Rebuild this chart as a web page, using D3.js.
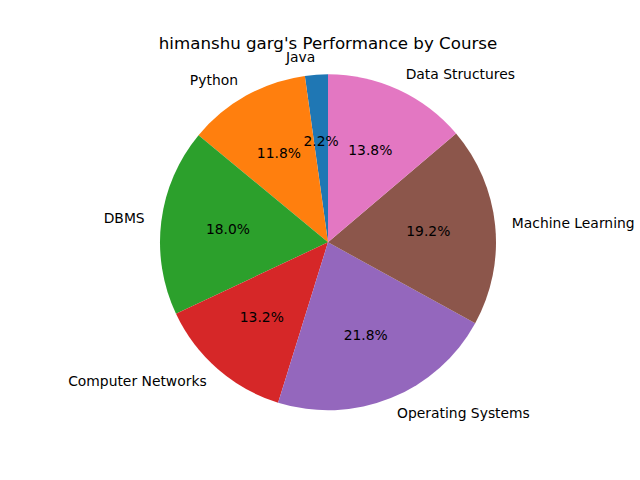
<!DOCTYPE html>
<html><head><meta charset="utf-8">
<script src="https://cdn.jsdelivr.net/npm/d3@7"></script>
<style>body{margin:0;background:#fff}svg{display:block}text{font-family:"DejaVu Sans",sans-serif}</style>
</head><body>
<svg id="c" width="640" height="480"></svg>
<script>
const categories = ["Java","Python","DBMS","Computer Networks","Operating Systems","Machine Learning","Data Structures"];
const values = [2.2,11.8,18.0,13.2,21.8,19.2,13.8];
const colors = ["#1f77b4","#ff7f0e","#2ca02c","#d62728","#9467bd","#8c564b","#e377c2"];
const title = "himanshu garg's Performance by Course";

const svg = d3.select("#c");
const cx = 328, cy = 242.3, R = 168;
svg.append("text").attr("x", 328).attr("y", 49).attr("text-anchor","middle")
  .attr("font-size","16.67px").attr("fill","#000").text(title);

const data = categories.map((c,i)=>({c, v:values[i], col:colors[i]}));
const pie = d3.pie().value(d=>d.v).sort(null).startAngle(0).endAngle(-2*Math.PI);
const arcs = pie(data);
const arc = d3.arc().innerRadius(0).outerRadius(R);
const g = svg.append("g").attr("transform",`translate(${cx},${cy})`);
const total = d3.sum(values);
g.selectAll("path").data(arcs).join("path").attr("d",arc).attr("fill",d=>d.data.col);
arcs.forEach(d=>{
  const a = (d.startAngle+d.endAngle)/2;
  const sx = Math.sin(a), sy = -Math.cos(a);
  g.append("text").attr("x", sx*R*1.1).attr("y", sy*R*1.1 - 1)
    .attr("text-anchor", sx>0 ? "start" : "end").attr("dominant-baseline","central")
    .attr("font-size","13.89px").attr("fill","#000").text(d.data.c);
  g.append("text").attr("x", sx*R*0.6).attr("y", sy*R*0.6 - 1)
    .attr("text-anchor","middle").attr("dominant-baseline","central")
    .attr("font-size","13.89px").attr("fill","#000").text((d.data.v/total*100).toFixed(1)+"%");
});
</script>
</body></html>
